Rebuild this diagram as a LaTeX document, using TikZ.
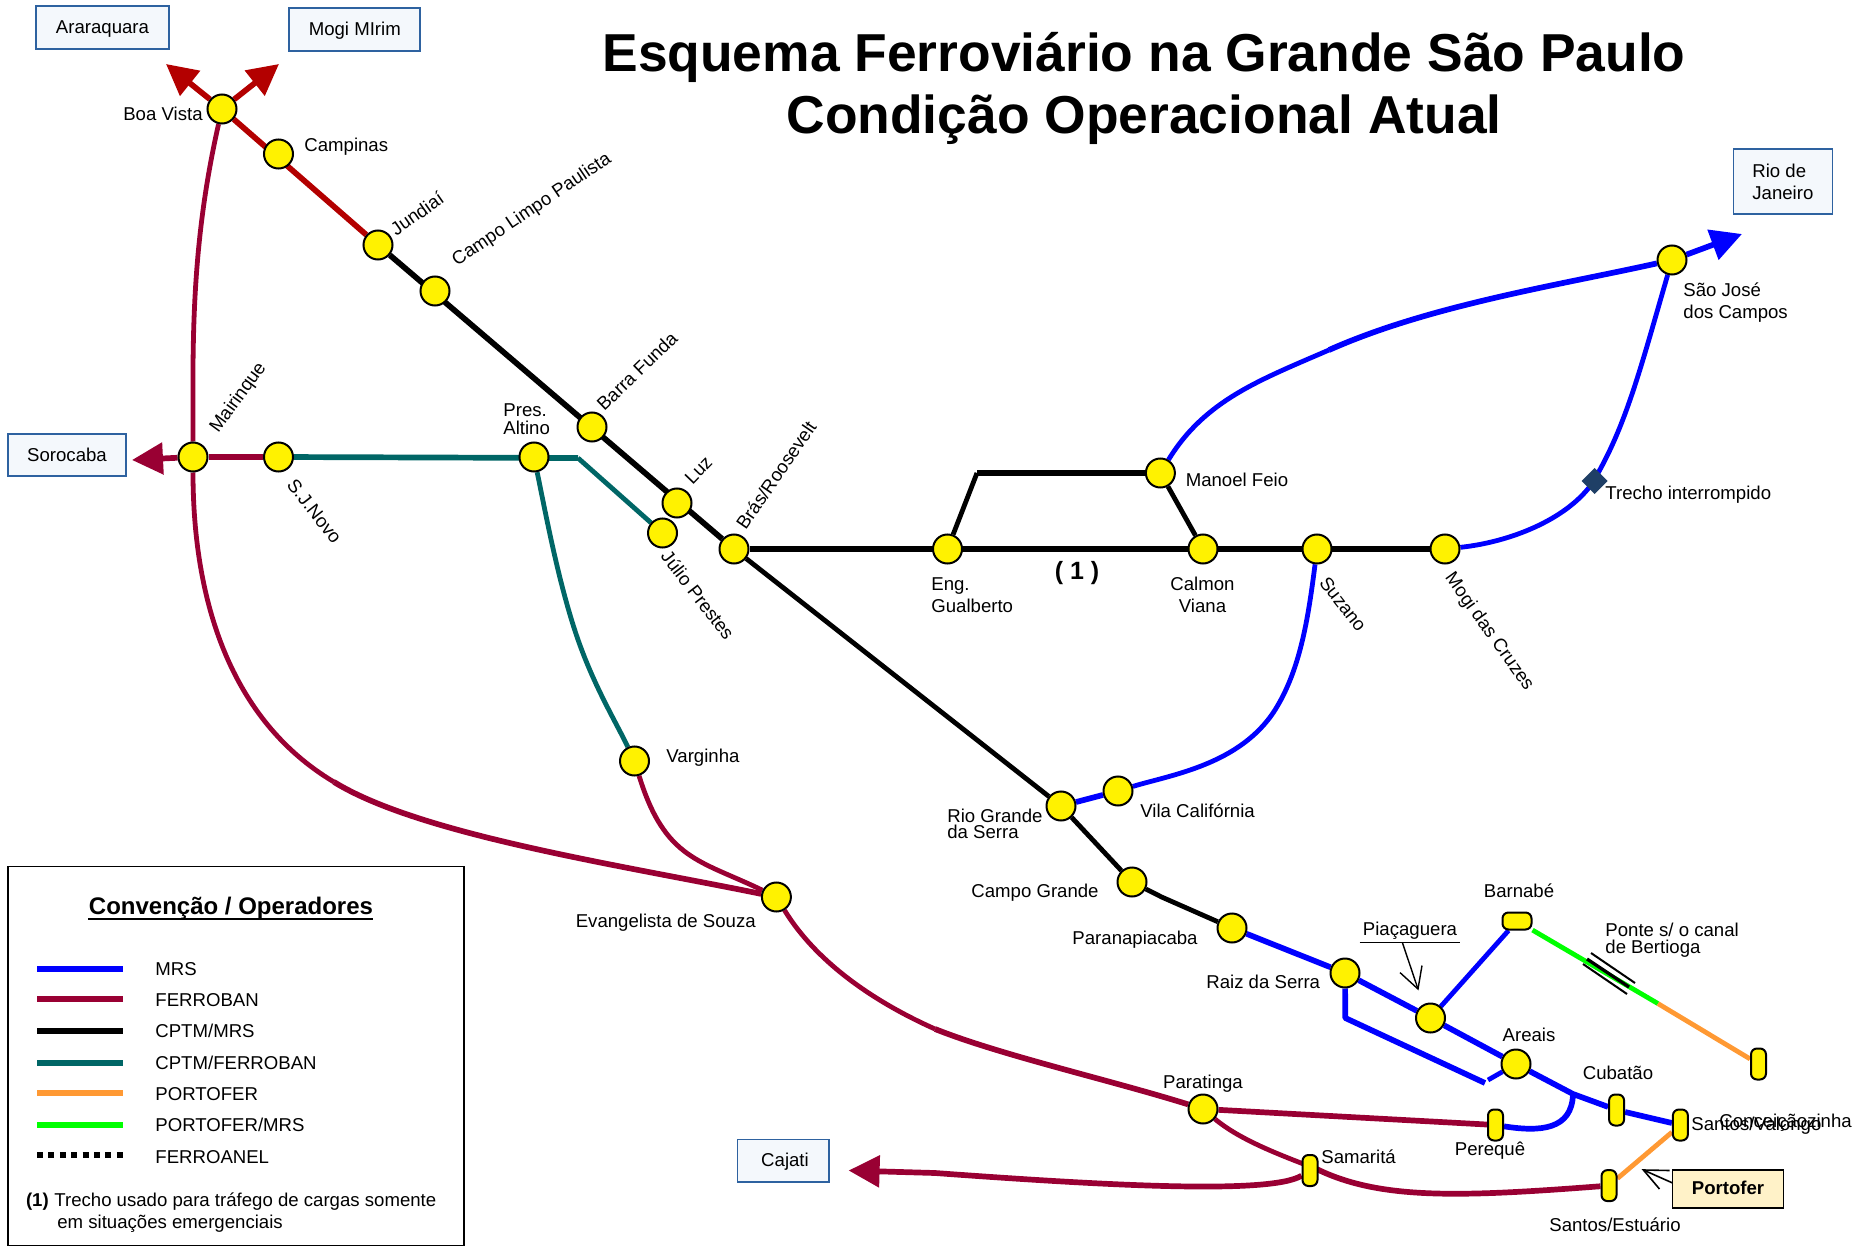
\documentclass[tikz,border=0pt]{standalone}
\usepackage{fontspec}
\setmainfont{Liberation Sans}
\usetikzlibrary{arrows.meta}
\pgfdeclarelayer{lines}
\pgfsetlayers{lines,main}
\definecolor{mrs}{HTML}{0000FF}
\definecolor{ferro}{HTML}{990033}
\definecolor{redline}{HTML}{B30000}
\definecolor{tealline}{HTML}{006666}
\definecolor{porto}{HTML}{FF9933}
\definecolor{greenline}{HTML}{00FF00}
\definecolor{boxedge}{HTML}{2E62A0}
\definecolor{boxfill}{HTML}{F4F8FC}
\definecolor{diam}{HTML}{1F3F66}
\definecolor{portofill}{HTML}{FFF2C8}
\newcommand{\lbl}{\fontsize{9.3}{11}\selectfont}
\tikzset{
 stn/.style={circle,draw=black,fill=yellow,line width=1pt,minimum size=14.5pt,inner sep=0pt},
 yardv/.style={rectangle,rounded corners=3pt,draw=black,fill=yellow,line width=1pt,minimum width=7.5pt,minimum height=15.5pt,inner sep=0pt},
 yardh/.style={rectangle,rounded corners=3pt,draw=black,fill=yellow,line width=1pt,minimum width=14.5pt,minimum height=8.5pt,inner sep=0pt},
 dest/.style={rectangle,draw=boxedge,fill=boxfill,line width=0.8pt,inner sep=0pt,font=\lbl},
 txt/.style={inner sep=0pt,font=\lbl,align=left},
 txtc/.style={inner sep=0pt,font=\lbl,align=center},
 rail/.style={line width=2.85pt,line join=round},
 thin rail/.style={line width=2.4pt,line join=round},
 head/.style={-{Triangle[length=15.5pt,width=15.5pt]}},
 legline/.style={line width=3pt},
}
\begin{document}
\begin{tikzpicture}[x=0.5pt,y=-0.5pt]
\useasboundingbox (0,0) rectangle (1870,1246);
% stations
\node[stn] (boa) at (222,109) {};
\node[stn] (camp) at (278.5,154) {};
\node[stn] (jund) at (378,245) {};
\node[stn] (clp) at (435,291) {};
\node[stn] (barra) at (592,427) {};
\node[stn] (luz) at (677,503) {};
\node[stn] (julio) at (662.5,533) {};
\node[stn] (bras) at (734,549) {};
\node[stn] (mair) at (193,457) {};
\node[stn] (sjn) at (278.5,457) {};
\node[stn] (pres) at (534,457) {};
\node[stn] (eng) at (947.5,549) {};
\node[stn] (calmon) at (1203,549) {};
\node[stn] (manoel) at (1160.4,473) {};
\node[stn] (suz) at (1317,549) {};
\node[stn] (mogi) at (1445,549) {};
\node[stn] (sjc) at (1672,260) {};
\node[stn] (rgs) at (1061,806) {};
\node[stn] (vila) at (1118,791) {};
\node[stn] (cgr) at (1132,882) {};
\node[stn] (para) at (1232,928) {};
\node[stn] (raiz) at (1345,973) {};
\node[stn] (piac) at (1430.5,1018) {};
\node[stn] (areais) at (1516,1064) {};
\node[stn] (parat) at (1203,1109) {};
\node[stn] (varg) at (634.5,761) {};
\node[stn] (evang) at (776.4,897) {};
\node[yardv] (cub) at (1616.6,1110) {};
\node[yardv] (val) at (1680.4,1125) {};
\node[yardv] (conc) at (1758.5,1064) {};
\node[yardv] (per) at (1495.5,1125) {};
\node[yardv] (sam) at (1310,1170.5) {};
\node[yardv] (est) at (1609,1185.6) {};
\node[yardh] (barn) at (1517,921) {};
% free points
\coordinate (tipA) at (166,64);
\coordinate (tipM) at (279,64);
\coordinate (tipS) at (132,460);
\coordinate (tipR) at (1742,234);
\coordinate (tipC) at (848.6,1170.5);
\coordinate (jct) at (578,458);
\coordinate (corner) at (977,473);
\coordinate (elbow) at (1161.6,897);
\coordinate (jb) at (1573,1094);
\coordinate (sideA) at (1345.3,1018);
\coordinate (sideB) at (1485,1083);
\coordinate (sideC) at (1488,1080);
\coordinate (gr) at (1658,1003.6);
\coordinate (vM) at (334,782);
\coordinate (vP) at (935,1029);
\coordinate (vS) at (1316.6,1169);
\coordinate (vC) at (935,1173);
\coordinate (vT) at (572.5,623);
\coordinate (vF) at (1329,350);
\coordinate (vD) at (1591,485);
\coordinate (vU) at (1275,710);
\begin{pgfonlayer}{lines}
\draw[rail,redline,head] (boa) -- (tipA);
\draw[rail,redline,head] (boa) -- (tipM);
\draw[rail,redline] (boa) -- (jund);
\draw[rail,ferro,head] (mair) -- (tipS);
\draw[rail,ferro] (mair) -- (sjn);
\draw[thin rail,ferro] (boa) .. controls (190,250) and (193,350) .. (mair);
\draw[thin rail,ferro] (mair) .. controls (193,600) and (230,720) .. (vM);
\draw[rail,ferro] (vM) .. controls (420,835) and (620,865) .. (evang);
\draw[thin rail,ferro] (varg) .. controls (665,860) and (700,860) .. (evang);
\draw[thin rail,ferro] (evang) .. controls (815,960) and (870,1000) .. (vP);
\draw[rail,ferro] (vP) .. controls (1000,1055) and (1110,1080) .. (parat);
\draw[rail,ferro] (parat) -- (per);
\draw[thin rail,ferro] (parat) .. controls (1240,1140) and (1280,1155) .. (vS);
\draw[rail,ferro] (vS) .. controls (1380,1200) and (1460,1197) .. (est);
\draw[rail,ferro,head] (sam) .. controls (1270,1195) and (1100,1185) .. (vC) -- (tipC);
\draw[rail,black] (jund) -- (bras);
\draw[thin rail,black] (bras) -- (rgs);
\draw[rail,black] (bras) -- (mogi);
\draw[thin rail,black] (rgs) -- (cgr);
\draw[thin rail,black] (cgr) -- (elbow) -- (para);
\draw[thin rail,black] (eng) -- (corner);
\draw[rail,black] (corner) -- (manoel);
\draw[thin rail,black] (manoel) -- (calmon);
\draw[rail,tealline] (sjn) -- (jct);
\draw[thin rail,tealline] (jct) -- (julio);
\draw[thin rail,tealline] (pres) .. controls (545,510) and (556,570) .. (vT) .. controls (590,680) and (615,720) .. (varg);
\draw[rail,mrs,head] (sjc) -- (tipR);
\draw[thin rail,mrs] (manoel) .. controls (1205,400) and (1260,380) .. (vF);
\draw[rail,mrs] (vF) .. controls (1430,305) and (1560,285) .. (sjc);
\draw[thin rail,mrs] (mogi) .. controls (1510,542) and (1565,520) .. (vD) .. controls (1625,430) and (1640,370) .. (sjc);
\draw[thin rail,mrs] (suz) .. controls (1308,620) and (1300,670) .. (vU) .. controls (1240,765) and (1170,775) .. (vila);
\draw[rail,mrs] (vila) -- (rgs);
\draw[rail,mrs] (para) -- (raiz) -- (piac) -- (areais) -- (jb) -- (cub) -- (val);
\draw[thin rail,mrs] (piac) -- (barn);
\draw[rail,mrs] (raiz) -- (sideA) -- (sideB);
\draw[thin rail,mrs] (sideC) -- (areais);
\draw[rail,mrs] (per) .. controls (1540,1132) and (1572,1130) .. (jb);
\draw[thin rail,greenline] (barn) -- (gr);
\draw[thin rail,porto] (gr) -- (conc);
\draw[thin rail,porto] (val) -- (est);
\end{pgfonlayer}
% bridge
\coordinate (b1a) at (1591,953); \coordinate (b1b) at (1635,983);
\coordinate (b2a) at (1583,964); \coordinate (b2b) at (1627,994);
\coordinate (b3a) at (1587,959); \coordinate (b3b) at (1629,987);
\draw[black,line width=1pt] (b1a) -- (b1b);
\draw[black,line width=1pt] (b2a) -- (b2b);
\draw[black,line width=1.6pt] (b3a) -- (b3b);
% interrupted section
\node[rectangle,fill=diam,minimum width=9.2pt,minimum height=9.2pt,inner sep=0pt,rotate=45] (dia) at (1594.5,481) {};
% destination boxes
\node[dest,minimum width=66.5pt,minimum height=21.5pt] (bAra) at (102.5,27.5) {};
\node[txtc] (tAra) at (102.5,29.2) {Araraquara};
\node[dest,minimum width=65.5pt,minimum height=21.5pt] (bMog) at (354.5,29.5) {};
\node[txtc] (tMog) at (354.8,30.5) {Mogi MIrim};
\node[dest,minimum width=59pt,minimum height=21pt] (bSor) at (67,455) {Sorocaba};
\node[dest,minimum width=49.5pt,minimum height=32.5pt] (bRio) at (1783,181.5) {};
\node[txt,anchor=west] (tRio1) at (1752,171) {Rio de};
\node[txt,anchor=west] (tRio2) at (1752,193) {Janeiro};
\node[dest,minimum width=45.7pt,minimum height=21.2pt] (bCaj) at (783.3,1160.7) {};
\node[txtc] (tCaj) at (785,1162) {Cajati};
\node[draw=black,fill=portofill,line width=0.8pt,inner sep=0pt,minimum width=55.5pt,minimum height=19pt,font=\lbl\bfseries] (bPor) at (1728,1189) {};
\node[txtc,font=\lbl\bfseries] (tPor) at (1728,1188) {Portofer};
% Portofer pointer
\coordinate (pT) at (1643.4,1170);
\coordinate (pW1) at (1669.6,1170.5);
\coordinate (pW2) at (1659.5,1189);
\coordinate (pS) at (1672.6,1183);
\draw[black,line width=0.8pt] (pS) -- (pT);
\draw[black,line width=0.8pt] (pW1) -- (pT) -- (pW2);
% Piacaguera pointer
\coordinate (uL) at (1359.6,942.4);
\coordinate (uR) at (1459.8,942.4);
\coordinate (aS) at (1402.5,943);
\coordinate (aT) at (1418,989);
\coordinate (aW1) at (1400,972.6);
\coordinate (aW2) at (1422,965.5);
\draw[black,line width=0.6pt] (uL) -- (uR);
\draw[black,line width=0.7pt] (aS) -- (aT);
\draw[black,line width=0.7pt] (aW1) -- (aT) -- (aW2);
% title
\node[inner sep=0pt,font=\fontsize{26.7}{30}\selectfont\bfseries] (t1) at (1144,57) {Esquema Ferroviário na Grande São Paulo};
\node[inner sep=0pt,font=\fontsize{26.7}{30}\selectfont\bfseries] (t2) at (1144,120) {Condição Operacional Atual};
% labels
\node[txt,anchor=east] (lBoa) at (203,114) {Boa Vista};
\node[txt,anchor=west] (lCamp) at (304,146.4) {Campinas};
\node[txt,rotate=35] (lJund) at (417,213.5) {Jundiaí};
\node[txt,rotate=34] (lClp) at (532,210) {Campo Limpo Paulista};
\node[txt,rotate=44] (lBar) at (637,371) {Barra Funda};
\node[txt,rotate=46] (lLuz) at (698.5,470) {Luz};
\node[txt,rotate=55.5] (lBras) at (776,475) {Brás/Roosevelt};
\node[txt,rotate=54] (lMair) at (238.5,398) {Mairinque};
\node[txt,rotate=-52] (lSjn) at (314.5,511) {S.J.Novo};
\node[txt,rotate=-52.5] (lJulio) at (698,595) {Júlio Prestes};
\node[txt,anchor=west] (lPres1) at (503,410) {Pres.};
\node[txt,anchor=west] (lPres2) at (503,428) {Altino};
\node[txt,anchor=west] (lEng1) at (931,586.4) {Eng.};
\node[txt,anchor=west] (lEng2) at (931,606) {Gualberto};
\node[txtc] (lCal1) at (1202.5,584) {Calmon};
\node[txtc] (lCal2) at (1202.5,606) {Viana};
\node[txtc,font=\fontsize{12.5}{14}\selectfont\bfseries] (lOne) at (1077,573) {( 1 )};
\node[txt,anchor=west] (lMan) at (1185.4,480) {Manoel Feio};
\node[txt,rotate=-52] (lSuz) at (1343,604) {Suzano};
\node[txt,rotate=-54.5] (lMogi) at (1489,632) {Mogi das Cruzes};
\node[txt,anchor=west] (lSj1) at (1683,290) {São José};
\node[txt,anchor=west] (lSj2) at (1683,314) {dos Campos};
\node[txt,anchor=west] (lTre) at (1605,494.4) {Trecho interrompido};
\node[txt,anchor=west] (lVila) at (1140,810.5) {Vila Califórnia};
\node[txt,anchor=west] (lRg1) at (947,815.7) {Rio Grande};
\node[txt,anchor=west] (lRg2) at (947,832) {da Serra};
\node[txt,anchor=east] (lCg) at (1099,892.4) {Campo Grande};
\node[txt,anchor=east] (lPar) at (1198,939.4) {Paranapiacaba};
\node[txt,anchor=east] (lRaiz) at (1320.5,982) {Raiz da Serra};
\node[txtc] (lPia) at (1410,930.5) {Piaçaguera};
\node[txtc] (lBarn) at (1519,891) {Barnabé};
\node[txt,anchor=west] (lPo1) at (1605,930) {Ponte s/ o canal};
\node[txt,anchor=west] (lPo2) at (1605,949) {de Bertioga};
\node[txtc] (lAre) at (1529,1035) {Areais};
\node[txtc] (lCub) at (1618,1073) {Cubatão};
\node[txt,anchor=west] (lVal) at (1691,1125.6) {Santos/Valongo};
\node[txt,anchor=west] (lCon) at (1719,1123) {Conceiçãozinha};
\node[txtc] (lPat) at (1203,1083.4) {Paratinga};
\node[txt,anchor=west] (lSam) at (1321,1156.6) {Samaritá};
\node[txtc] (lPer) at (1490,1151) {Perequê};
\node[txtc] (lEst) at (1615,1225) {Santos/Estuário};
\node[txt,anchor=west] (lVar) at (666,757.4) {Varginha};
\node[txt,anchor=west] (lEva) at (575.4,922.5) {Evangelista de Souza};
% legend
\node[rectangle,draw=black,line width=0.8pt,minimum width=228pt,minimum height=189.5pt,inner sep=0pt] (leg) at (236,1056) {};
\node[inner sep=0pt,font=\fontsize{12}{14}\selectfont\bfseries] (legT) at (231,908.5) {Convenção / Operadores};
\coordinate (uA) at (88,919); \coordinate (uB) at (373,919);
\draw[black,line width=1.3pt] (uA) -- (uB);
\coordinate (a1) at (37,968.6); \coordinate (b1) at (123,968.6);
\coordinate (a2) at (37,999); \coordinate (b2) at (123,999);
\coordinate (a3) at (37,1030.6); \coordinate (b3) at (123,1030.6);
\coordinate (a4) at (37,1062.8); \coordinate (b4) at (123,1062.8);
\coordinate (a5) at (37,1093); \coordinate (b5) at (123,1093);
\coordinate (a6) at (37,1125); \coordinate (b6) at (123,1125);
\coordinate (a7) at (37,1155); \coordinate (b7) at (123,1155);
\draw[legline,mrs] (a1) -- (b1);
\draw[legline,ferro] (a2) -- (b2);
\draw[legline,black] (a3) -- (b3);
\draw[legline,tealline] (a4) -- (b4);
\draw[legline,porto] (a5) -- (b5);
\draw[legline,greenline] (a6) -- (b6);
\draw[legline,black,dash pattern=on 3pt off 2.7pt] (a7) -- (b7);
\node[txt,anchor=west] (k1) at (155,969) {MRS};
\node[txt,anchor=west] (k2) at (155,1000) {FERROBAN};
\node[txt,anchor=west] (k3) at (155,1031) {CPTM/MRS};
\node[txt,anchor=west] (k4) at (155,1063) {CPTM/FERROBAN};
\node[txt,anchor=west] (k5) at (155,1094) {PORTOFER};
\node[txt,anchor=west] (k6) at (155,1125) {PORTOFER/MRS};
\node[txt,anchor=west] (k7) at (155,1157) {FERROANEL};
\node[txt,anchor=west,font=\lbl\bfseries] (n1) at (25.6,1201.4) {(1)};
\node[txt,anchor=west] (n2) at (54,1201.4) {Trecho usado para tráfego de cargas somente};
\node[txt,anchor=west] (n3) at (57,1223.4) {em situações emergenciais};
\end{tikzpicture}
\end{document}
